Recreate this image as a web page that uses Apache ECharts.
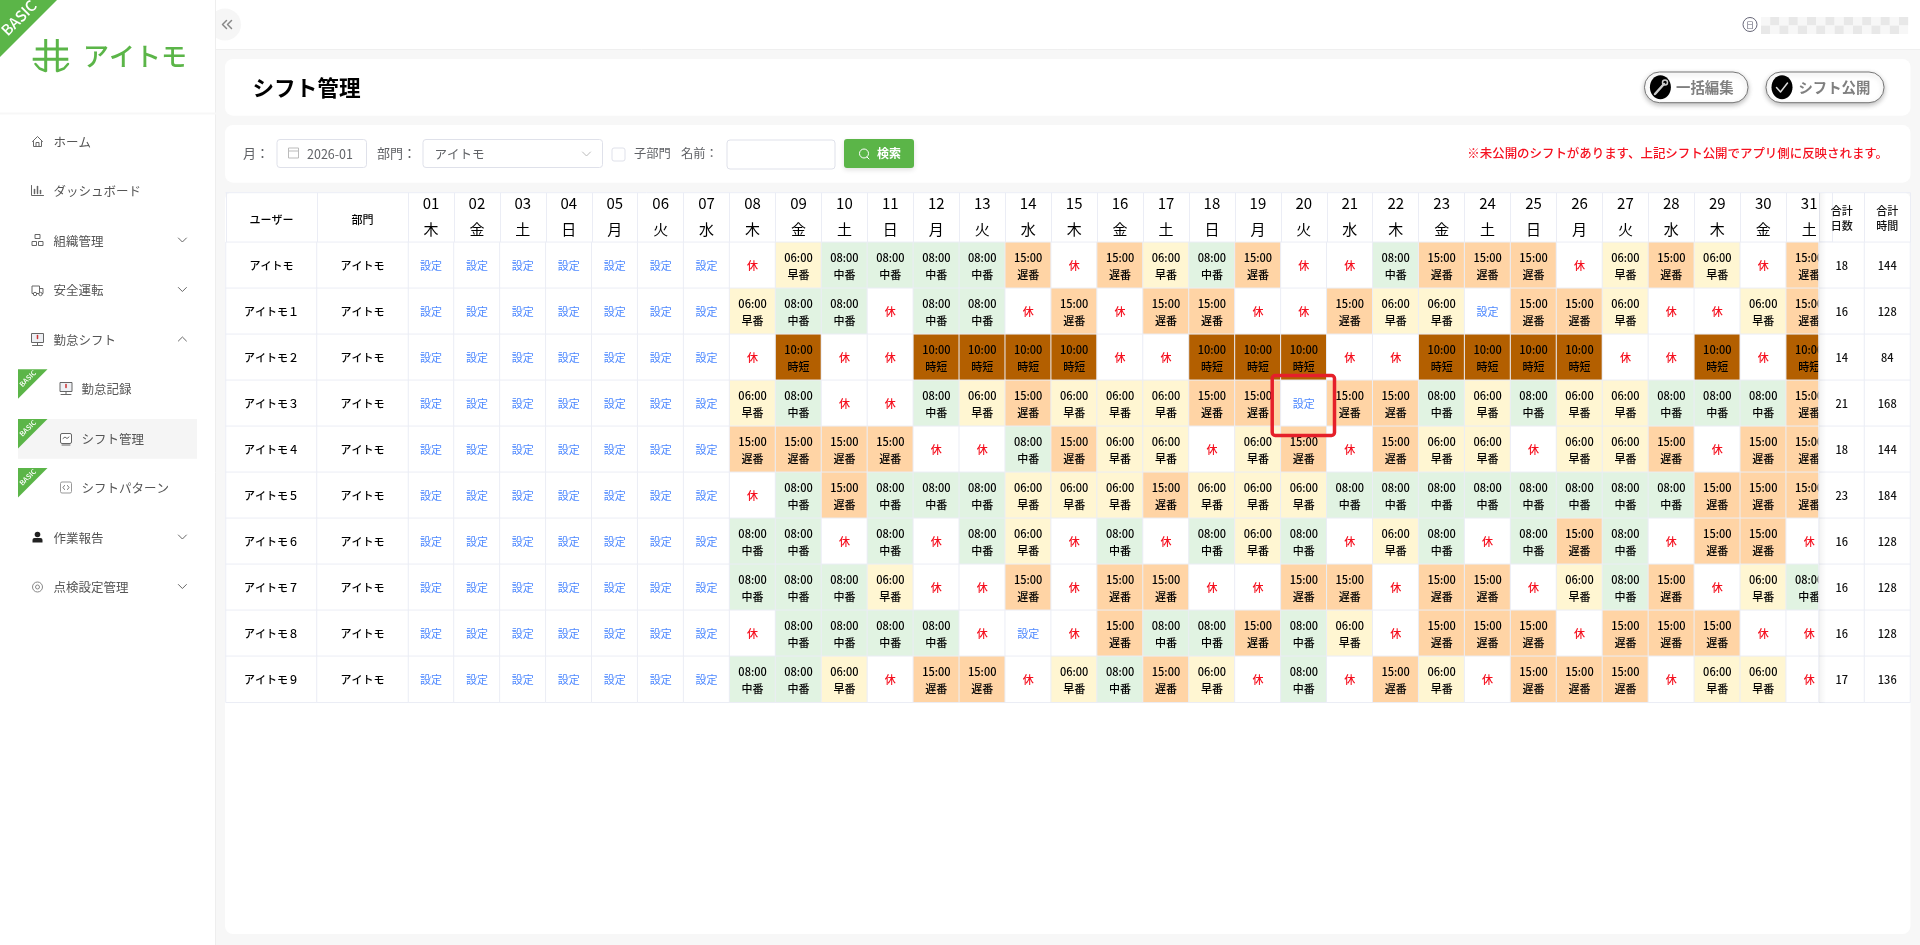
<!DOCTYPE html>
<html lang="ja">
<head>
<meta charset="utf-8">
<title>シフト管理</title>
<script src="https://cdn.jsdelivr.net/npm/echarts@6/dist/echarts.min.js"></script>
<style>html,body{margin:0;padding:0;background:#f7f7f7;overflow:hidden}#c{width:1920px;height:945px}</style>
</head>
<body>
<div id="c"></div>
<script>
const users = ['アイトモ','アイトモ１','アイトモ２','アイトモ３','アイトモ４','アイトモ５','アイトモ６','アイトモ７','アイトモ８','アイトモ９'];
const departments = ['アイトモ','アイトモ','アイトモ','アイトモ','アイトモ','アイトモ','アイトモ','アイトモ','アイトモ','アイトモ'];
const days = ['01','02','03','04','05','06','07','08','09','10','11','12','13','14','15','16','17','18','19','20','21','22','23','24','25','26','27','28','29','30','31'];
const weekdays = ['木','金','土','日','月','火','水','木','金','土','日','月','火','水','木','金','土','日','月','火','水','木','金','土','日','月','火','水','木','金','土'];
const totalDays = [18,16,14,21,18,23,16,16,16,17];
const totalHours = [144,128,84,168,144,184,128,128,128,136];
const leftHeaders = ['ユーザー','部門'];
const rightHeaders = ['合計\n日数','合計\n時間'];
// 設=設定(未設定) 休=休み 早=早番 中=中番 遅=遅番 短=時短
const shiftsUser0 = ['設','設','設','設','設','設','設','休','早','中','中','中','中','遅','休','遅','早','中','遅','休','休','中','遅','遅','遅','休','早','遅','早','休','遅'];
const shiftsUser1 = ['設','設','設','設','設','設','設','早','中','中','休','中','中','休','遅','休','遅','遅','休','休','遅','早','早','設','遅','遅','早','休','休','早','遅'];
const shiftsUser2 = ['設','設','設','設','設','設','設','休','短','休','休','短','短','短','短','休','休','短','短','短','休','休','短','短','短','短','休','休','短','休','短'];
const shiftsUser3 = ['設','設','設','設','設','設','設','早','中','休','休','中','早','遅','早','早','早','遅','遅','設','遅','遅','中','早','中','早','早','中','中','中','遅'];
const shiftsUser4 = ['設','設','設','設','設','設','設','遅','遅','遅','遅','休','休','中','遅','早','早','休','早','遅','休','遅','早','早','休','早','早','遅','休','遅','遅'];
const shiftsUser5 = ['設','設','設','設','設','設','設','休','中','遅','中','中','中','早','早','早','遅','早','早','早','中','中','中','中','中','中','中','中','遅','遅','遅'];
const shiftsUser6 = ['設','設','設','設','設','設','設','中','中','休','中','休','中','早','休','中','休','中','早','中','休','早','中','休','中','遅','中','休','遅','遅','休'];
const shiftsUser7 = ['設','設','設','設','設','設','設','中','中','中','早','休','休','遅','休','遅','遅','休','休','遅','遅','休','遅','遅','休','早','中','遅','休','早','中'];
const shiftsUser8 = ['設','設','設','設','設','設','設','休','中','中','中','中','休','設','休','遅','中','中','遅','中','早','休','遅','遅','遅','休','遅','遅','遅','休','休'];
const shiftsUser9 = ['設','設','設','設','設','設','設','中','中','早','休','遅','遅','休','早','中','遅','早','休','中','休','遅','早','休','遅','遅','遅','休','早','早','休'];
const shiftRows = [shiftsUser0,shiftsUser1,shiftsUser2,shiftsUser3,shiftsUser4,shiftsUser5,shiftsUser6,shiftsUser7,shiftsUser8,shiftsUser9];
const shiftKinds = ['設','休','早','中','遅','短'];
const shiftTexts = {'設':'設定','休':'休','早':'06:00\n早番','中':'08:00\n中番','遅':'15:00\n遅番','短':'10:00\n時短'};

const menuTop = [['ホーム',142,'home',0],['ダッシュボード',191,'chart',0],['組織管理',241,'org',1],['安全運転',290.5,'truck',1],['勤怠シフト',340,'monitor',2],['作業報告',538,'user',1],['点検設定管理',587.5,'gear',1]];
const menuSub = [['勤怠記録',389,369.3],['シフト管理',439,419],['シフトパターン',488,468]];

const FONT = '"Noto Sans CJK JP","Noto Sans",sans-serif';
const GREEN = '#5bb548', LINE = '#ebedf5';
const shiftFill = {'設':'#ffffff','休':'#ffffff','早':'#fff6d2','中':'#e1f3e2','遅':'#ffd4a5','短':'#b35f00'};
const shiftColor = {'設':'#4d88ff','休':'#f5101f','早':'#000','中':'#000','遅':'#000','短':'#000'};

const g = [];
const rect = (x,y,w,h,fill,o={}) => g.push({type:'rect',z:o.z||0,shape:{x,y,width:w,height:h,r:o.r||0},style:{fill,stroke:o.stroke,lineWidth:o.lw||1,shadowBlur:o.blur||0,shadowColor:o.sc,shadowOffsetY:o.sy||0}});
const text = (t,x,y,size,fill,o={}) => g.push({type:'text',z:o.z||1,style:{text:t,x,y,fill,font:`${o.weight||400} ${size}px ${FONT}`,align:o.align||'left',verticalAlign:'middle'}});
const line = (pts,stroke,lw=1,o={}) => g.push({type:'polyline',z:o.z||1,shape:{points:pts},style:{stroke,lineWidth:lw,fill:null,lineCap:o.cap||'round',lineJoin:'round'}});
const circle = (cx,cy,r,o={}) => g.push({type:'circle',z:o.z||1,shape:{cx,cy,r},style:{fill:o.fill||'none',stroke:o.stroke,lineWidth:o.lw||1}});
const ribbon = (x,y,s,font) => {
  g.push({type:'polygon',z:2,shape:{points:[[x,y],[x+s,y],[x,y+s]]},style:{fill:GREEN}});
  g.push({type:'text',z:3,x:x+s*0.33,y:y+s*0.31,rotation:Math.PI/4,style:{text:'BASIC',fill:'#fff',font:`500 ${font}px ${FONT}`,align:'center',verticalAlign:'middle'}});
};
const chevron = (x,y,up) => line(up?[[x-4,y+2],[x,y-2],[x+4,y+2]]:[[x-4,y-2],[x,y+2],[x+4,y-2]],'#666',1);

// page frame
rect(215.5,0,1704.5,49.5,'#fff');
line([[215.5,49.5],[1920,49.5]],'#efefef');
// collapse button (half hidden behind the sidebar)
g.push({type:'circle',z:0,shape:{cx:225,cy:24.5,r:16},style:{fill:'#f6f6f6'}});
rect(0,0,215.5,945,'#fff');
g.push({type:'line',z:1,shape:{x1:215.5,y1:0,x2:215.5,y2:945},style:{stroke:'#eeeeee',lineWidth:1}});
line([[0,113.5],[215.5,113.5]],'#f7f7f7',2);
rect(225,59,1685.5,56.7,'#fff',{r:8});
rect(225,125,1685.5,57.7,'#fff',{r:8});
rect(225,192,1685.5,742,'#fff',{r:8});
line([[226.5,20.5],[222.5,24.5],[226.5,28.5]],'#888',1.5);
line([[231.5,20.5],[227.5,24.5],[231.5,28.5]],'#888',1.5);

// logo
ribbon(0,0,57,15);
line([[35.7,49],[68,49]],GREEN,3,{cap:'butt'});
line([[32.7,59.3],[68.3,59.3]],GREEN,3,{cap:'butt'});
line([[45.7,39],[45.7,71.5]],GREEN,3,{cap:'butt'});
line([[57.3,39],[57.3,71.5]],GREEN,3,{cap:'butt'});
line([[35.5,64],[39.5,68.5],[45.7,71]],GREEN,2.5);
line([[68,64],[64,68.5],[57.3,71]],GREEN,2.5);
text('アイトモ',83,56.5,26,GREEN,{weight:500});

// user badge
circle(1750,24.5,7,{stroke:'#667',lw:1});
text('日',1750,24.5,8,'#667',{align:'center'});
for (let i=0;i<16;i++) for (let j=0;j<2;j++)
  rect(1761+i*9.2,17+j*8.5,9.2,8.5,(i+j)%2?'#e8e8e8':'#f7f7f7',{z:1});

// title row
text('シフト管理',252.5,87.5,21.6,'#000',{weight:700});
[[1644.5,103.5,'一括編集',1660.4,1676],[1766,118,'シフト公開',1782,1798.4]].forEach(b=>{
  rect(b[0],72,b[1],30.7,'#fff',{r:15,stroke:'#777',blur:5,sc:'rgba(0,0,0,.25)',sy:2,z:1});
  g.push({type:'ellipse',z:2,shape:{cx:b[3],cy:87.3,rx:10.5,ry:12},style:{fill:'#000'}});
  text(b[2],b[4],87.5,14.4,'#808080',{weight:700,z:2});
});
line([[1655,94],[1664,84]],'#ccc',2.5,{z:3});
circle(1665,82.5,2.5,{stroke:'#ccc',lw:1.5,z:3});
line([[1776.5,87.5],[1780.5,92],[1787.5,83]],'#ddd',1.5,{z:3});

// filters
const lab='#606266', bd='#dfe1ea';
text('月：',243,153,13,lab);
rect(277,139.5,89.5,28,'#fff',{r:3,stroke:bd});
rect(288.5,148,10,10,'none',{stroke:'#bbb'});
line([[288.5,151],[298.5,151]],'#bbb');
text('2026-01',307,154,12.5,lab);
text('部門：',377,153,13,lab);
rect(423,139.5,179.5,28,'#fff',{r:3,stroke:bd});
text('アイトモ',434.5,154,12.5,lab);
line([[582.5,152],[586.5,156],[590.5,152]],'#bbb',1);
rect(612,148,13,13,'#fff',{r:2,stroke:bd});
text('子部門',634,153,12.3,lab);
text('名前：',681,153,12.3,lab);
rect(727,140,108,29,'#fff',{r:3,stroke:bd});
rect(844,139,70,29,GREEN,{r:3,blur:5,sc:'rgba(0,0,0,.12)',sy:2});
circle(864,153.5,4.5,{stroke:'#fff',lw:1});
line([[867,157],[869,159]],'#fff');
text('検索',877,153.5,12,'#fff',{weight:700});
text('※未公開のシフトがあります、上記シフト公開でアプリ側に反映されます。',1888,153,12.45,'#f5101f',{align:'right',weight:500});

// table header top line
line([[226,192.7],[1910,192.7]],LINE,1,{z:1});

// menu
const menuIcon = (k,x,y) => {
  const c='#666';
  if(k==='home'){line([[x-5,y],[x,y-5],[x+5,y]],c);line([[x-4,y],[x-4,y+5],[x+4,y+5],[x+4,y]],c);line([[x-1.5,y+5],[x-1.5,y+1],[x+1.5,y+1],[x+1.5,y+5]],c);}
  if(k==='chart'){line([[x-6,y-5],[x-6,y+5],[x+6,y+5]],c);line([[x-3,y+3],[x-3,y-1]],c,1.5);line([[x,y+3],[x,y-4]],c,1.5);line([[x+3,y+3],[x+3,y]],c,1.5);}
  if(k==='org'){rect(x-2.5,y-6,5,4,'none',{stroke:c,z:1});rect(x-5.5,y+1,4.5,4,'none',{stroke:c,z:1});rect(x+1,y+1,4.5,4,'none',{stroke:c,z:1});}
  if(k==='truck'){rect(x-5.5,y-4,7.5,7.5,'none',{stroke:c,z:1});line([[x+2,y-1.5],[x+5.5,y-1.5],[x+5.5,y+3.5],[x+2,y+3.5]],c);circle(x-2.5,y+4,1.7,{stroke:c,fill:'#fff'});circle(x+3,y+4,1.7,{stroke:c,fill:'#fff'});}
  if(k==='monitor'){rect(x-6,y-6,12,9,'#eef0f4',{stroke:c,z:1});line([[x,y-4],[x,y-1]],'#c33',1.5);line([[x,y+3],[x,y+6]],c);line([[x-5,y+6],[x+5,y+6]],c);}
  if(k==='user'){circle(x,y-3,2.8,{fill:'#222'});g.push({type:'rect',z:1,shape:{x:x-5,y:y+0.5,width:10,height:4.5,r:[2,2,0,0]},style:{fill:'#222'}});}
  if(k==='gear'){circle(x,y,5,{stroke:'#888'});circle(x,y,2,{stroke:'#888'});}
  if(k==='chartbox'){rect(x-5.5,y-5,11,10,'#fff',{r:1.5,stroke:c,z:1});line([[x-3,y],[x-1,y-1.5],[x+1,y],[x+3,y-1.5]],c);line([[x-4,y+6.5],[x+4,y+6.5]],c);}
  if(k==='code'){rect(x-5.5,y-5.5,11,11,'#fff',{r:1.5,stroke:'#999',z:1});line([[x-1.5,y-2],[x-3,y],[x-1.5,y+2]],'#777');line([[x+1.5,y-2],[x+3,y],[x+1.5,y+2]],'#777');}
};
menuTop.forEach(m=>{
  menuIcon(m[2],37.5,m[1]-0.5);
  text(m[0],53.5,m[1],12.5,'#555');
  if(m[3]) chevron(182.4,m[1]-1,m[3]===2);
});
rect(18,419,179,39.7,'#f5f5f5');
menuSub.forEach((m,i)=>{
  ribbon(18,m[2],29.5,7);
  if(i===0) menuIcon('monitor',66,m[1]-0.5);
  if(i===1) menuIcon('chartbox',66,m[1]-0.5);
  if(i===2) menuIcon('code',66,m[1]-0.5);
  text(m[0],81.5,m[1],12.5,'#555');
});

// annotation box and fixed-column shadow
rect(1272.2,375.5,62.3,60,'none',{r:3,stroke:'#e5202a',lw:3.5,z:20});
g.push({type:'rect',z:20,shape:{x:1819,y:193,width:7,height:510},style:{fill:new echarts.graphic.LinearGradient(0,0,1,0,[{offset:0,color:'rgba(0,0,0,.05)'},{offset:1,color:'rgba(0,0,0,0)'}])}});

// marks
const cell = (x,y,t,color,fill,weight) => ({value:[x,y,1],itemStyle:{color:fill},label:{formatter:String(t),color,fontWeight:weight}});
const shiftData = [];
shiftRows.forEach((row,y)=>row.forEach((code,x)=>{
  shiftData.push({value:[x,y,shiftKinds.indexOf(code)],itemStyle:{color:shiftFill[code]},label:{formatter:shiftTexts[code],color:shiftColor[code],fontWeight:code==='設'?400:500}});
}));
const leftData = [], rightData = [];
users.forEach((u,y)=>{ leftData.push(cell(0,y,u,'#000','#fff',500)); leftData.push(cell(1,y,departments[y],'#000','#fff',500)); });
totalDays.forEach((v,y)=>{ rightData.push(cell(0,y,v,'#111','#fff',500)); rightData.push(cell(1,y,totalHours[y],'#111','#fff',500)); });

const heat = (i,data,z) => ({type:'heatmap',xAxisIndex:i,yAxisIndex:i,data,z,animation:false,progressive:0,
  itemStyle:{borderColor:LINE,borderWidth:1,color:'#fff'},
  label:{show:true,fontFamily:FONT,fontSize:11,lineHeight:17,offset:[0,1]},
  emphasis:{disabled:true}});
const xAxis = (idx,data,fmt) => Object.assign({type:'category',gridIndex:idx,position:'top',data,
  axisLine:{show:idx===0||idx===2,lineStyle:{color:LINE}},
  axisTick:{show:true,length:49.6,lineStyle:{color:LINE}},splitLine:{show:false}},fmt);
const yAxis = (idx) => ({type:'category',gridIndex:idx,inverse:true,data:users,axisLine:{show:false},axisTick:{show:false},axisLabel:{show:false},splitLine:{show:false}});

echarts.init(document.getElementById('c'),null,{renderer:'canvas'}).setOption({
  backgroundColor:'#f7f7f7',animation:false,
  textStyle:{fontFamily:FONT},
  grid:[
    {left:408,top:242.3,width:31*45.94,height:460},
    {left:226,top:242.3,width:182,height:460},
    {left:1819,top:242.3,width:91,height:460}
  ],
  xAxis:[
    xAxis(0,days.map((d,i)=>d+'\n'+weekdays[i]),{axisLabel:{interval:0,fontSize:15,lineHeight:26,margin:0,color:'#000',fontFamily:FONT}}),
    xAxis(1,leftHeaders,{axisLabel:{interval:0,fontSize:11,fontWeight:500,margin:17,color:'#000',fontFamily:FONT}}),
    xAxis(2,rightHeaders,{axisLabel:{interval:0,fontSize:11,fontWeight:500,lineHeight:15.5,margin:8.5,color:'#111',fontFamily:FONT}})
  ],
  yAxis:[yAxis(0),yAxis(1),yAxis(2)],
  series:[heat(0,shiftData,3),heat(1,leftData,4),heat(2,rightData,5)],
  graphic:{elements:g}
});
</script>
</body>
</html>
